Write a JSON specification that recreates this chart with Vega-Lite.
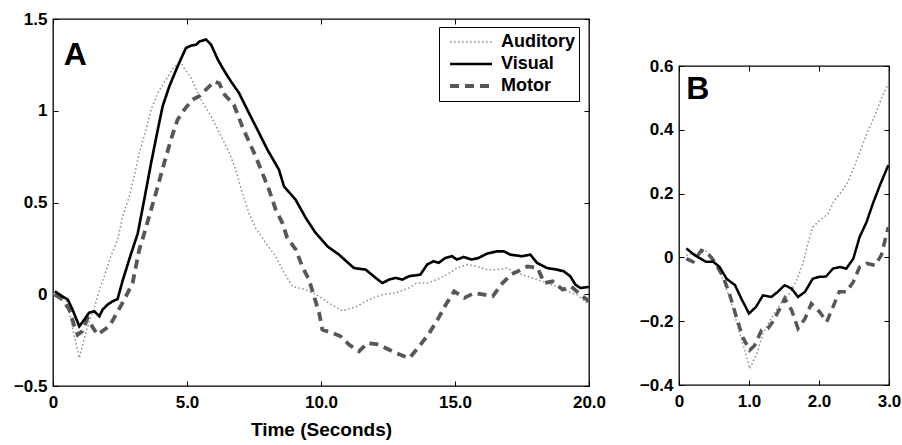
{
  "$schema": "https://vega.github.io/schema/vega-lite/v6.json",
  "padding": {"left": 12, "top": 9, "right": 0, "bottom": 0},
  "background": "white",
  "datasets": {
    "a": [
      {"s":"Auditory","t":0.0,"v":0.0},{"s":"Auditory","t":0.3,"v":0.0},{"s":"Auditory","t":0.55,"v":-0.05},{"s":"Auditory","t":0.75,"v":-0.2},{"s":"Auditory","t":0.98,"v":-0.347},{"s":"Auditory","t":1.15,"v":-0.25},{"s":"Auditory","t":1.35,"v":-0.15},{"s":"Auditory","t":1.55,"v":-0.07},{"s":"Auditory","t":1.73,"v":0.024},{"s":"Auditory","t":1.91,"v":0.098},{"s":"Auditory","t":2.16,"v":0.207},{"s":"Auditory","t":2.41,"v":0.298},{"s":"Auditory","t":2.6,"v":0.425},{"s":"Auditory","t":2.85,"v":0.534},{"s":"Auditory","t":3.03,"v":0.643},{"s":"Auditory","t":3.22,"v":0.77},{"s":"Auditory","t":3.47,"v":0.897},{"s":"Auditory","t":3.66,"v":1.006},{"s":"Auditory","t":3.91,"v":1.097},{"s":"Auditory","t":4.22,"v":1.17},{"s":"Auditory","t":4.53,"v":1.242},{"s":"Auditory","t":4.78,"v":1.26},{"s":"Auditory","t":4.9,"v":1.23},{"s":"Auditory","t":5.15,"v":1.179},{"s":"Auditory","t":5.52,"v":1.061},{"s":"Auditory","t":5.9,"v":0.97},{"s":"Auditory","t":6.27,"v":0.861},{"s":"Auditory","t":6.58,"v":0.77},{"s":"Auditory","t":6.82,"v":0.679},{"s":"Auditory","t":7.06,"v":0.552},{"s":"Auditory","t":7.31,"v":0.443},{"s":"Auditory","t":7.56,"v":0.361},{"s":"Auditory","t":7.94,"v":0.279},{"s":"Auditory","t":8.31,"v":0.207},{"s":"Auditory","t":8.56,"v":0.134},{"s":"Auditory","t":8.93,"v":0.043},{"s":"Auditory","t":9.43,"v":0.025},{"s":"Auditory","t":9.93,"v":-0.011},{"s":"Auditory","t":10.3,"v":-0.048},{"s":"Auditory","t":10.79,"v":-0.09},{"s":"Auditory","t":11.29,"v":-0.07},{"s":"Auditory","t":11.79,"v":-0.029},{"s":"Auditory","t":12.29,"v":-0.002},{"s":"Auditory","t":12.79,"v":0.007},{"s":"Auditory","t":13.28,"v":0.034},{"s":"Auditory","t":13.58,"v":0.061},{"s":"Auditory","t":13.96,"v":0.061},{"s":"Auditory","t":14.33,"v":0.08},{"s":"Auditory","t":14.7,"v":0.107},{"s":"Auditory","t":15.07,"v":0.143},{"s":"Auditory","t":15.45,"v":0.162},{"s":"Auditory","t":15.82,"v":0.152},{"s":"Auditory","t":16.19,"v":0.134},{"s":"Auditory","t":16.57,"v":0.134},{"s":"Auditory","t":16.94,"v":0.143},{"s":"Auditory","t":17.31,"v":0.116},{"s":"Auditory","t":17.69,"v":0.098},{"s":"Auditory","t":18.06,"v":0.08},{"s":"Auditory","t":18.43,"v":0.061},{"s":"Auditory","t":18.81,"v":0.043},{"s":"Auditory","t":19.18,"v":0.016},{"s":"Auditory","t":19.55,"v":-0.002},{"s":"Auditory","t":19.93,"v":-0.048},
      {"s":"Motor","t":0.07,"v":-0.002},{"s":"Motor","t":0.36,"v":-0.029},{"s":"Motor","t":0.61,"v":-0.084},{"s":"Motor","t":0.8,"v":-0.175},{"s":"Motor","t":0.92,"v":-0.22},{"s":"Motor","t":1.1,"v":-0.2},{"s":"Motor","t":1.29,"v":-0.13},{"s":"Motor","t":1.48,"v":-0.18},{"s":"Motor","t":1.66,"v":-0.22},{"s":"Motor","t":1.85,"v":-0.2},{"s":"Motor","t":2.04,"v":-0.18},{"s":"Motor","t":2.2,"v":-0.15},{"s":"Motor","t":2.35,"v":-0.11},{"s":"Motor","t":2.66,"v":-0.03},{"s":"Motor","t":2.97,"v":0.061},{"s":"Motor","t":3.22,"v":0.243},{"s":"Motor","t":3.41,"v":0.334},{"s":"Motor","t":3.66,"v":0.461},{"s":"Motor","t":3.84,"v":0.552},{"s":"Motor","t":4.15,"v":0.715},{"s":"Motor","t":4.4,"v":0.843},{"s":"Motor","t":4.65,"v":0.952},{"s":"Motor","t":4.9,"v":1.006},{"s":"Motor","t":5.21,"v":1.061},{"s":"Motor","t":5.46,"v":1.079},{"s":"Motor","t":5.77,"v":1.124},{"s":"Motor","t":6.02,"v":1.16},{"s":"Motor","t":6.2,"v":1.15},{"s":"Motor","t":6.4,"v":1.088},{"s":"Motor","t":6.75,"v":1.033},{"s":"Motor","t":7.06,"v":0.915},{"s":"Motor","t":7.31,"v":0.833},{"s":"Motor","t":7.56,"v":0.752},{"s":"Motor","t":7.81,"v":0.661},{"s":"Motor","t":8.06,"v":0.57},{"s":"Motor","t":8.31,"v":0.461},{"s":"Motor","t":8.56,"v":0.388},{"s":"Motor","t":8.74,"v":0.307},{"s":"Motor","t":9.06,"v":0.243},{"s":"Motor","t":9.3,"v":0.152},{"s":"Motor","t":9.55,"v":0.08},{"s":"Motor","t":9.74,"v":-0.011},{"s":"Motor","t":9.93,"v":-0.102},{"s":"Motor","t":10.05,"v":-0.193},{"s":"Motor","t":10.42,"v":-0.211},{"s":"Motor","t":10.73,"v":-0.229},{"s":"Motor","t":11.04,"v":-0.274},{"s":"Motor","t":11.42,"v":-0.311},{"s":"Motor","t":11.73,"v":-0.266},{"s":"Motor","t":12.16,"v":-0.274},{"s":"Motor","t":12.66,"v":-0.311},{"s":"Motor","t":13.1,"v":-0.338},{"s":"Motor","t":13.3,"v":-0.347},{"s":"Motor","t":13.67,"v":-0.284},{"s":"Motor","t":14.04,"v":-0.211},{"s":"Motor","t":14.35,"v":-0.138},{"s":"Motor","t":14.66,"v":-0.056},{"s":"Motor","t":14.97,"v":0.016},{"s":"Motor","t":15.35,"v":-0.02},{"s":"Motor","t":15.72,"v":0.007},{"s":"Motor","t":16.09,"v":-0.002},{"s":"Motor","t":16.41,"v":-0.011},{"s":"Motor","t":16.72,"v":0.053},{"s":"Motor","t":17.09,"v":0.107},{"s":"Motor","t":17.46,"v":0.134},{"s":"Motor","t":17.71,"v":0.152},{"s":"Motor","t":18.08,"v":0.143},{"s":"Motor","t":18.33,"v":0.061},{"s":"Motor","t":18.64,"v":0.07},{"s":"Motor","t":19.02,"v":0.025},{"s":"Motor","t":19.33,"v":0.043},{"s":"Motor","t":19.76,"v":-0.011},{"s":"Motor","t":20.0,"v":-0.038},
      {"s":"Visual","t":0.07,"v":0.016},{"s":"Visual","t":0.3,"v":-0.007},{"s":"Visual","t":0.55,"v":-0.029},{"s":"Visual","t":0.73,"v":-0.084},{"s":"Visual","t":0.98,"v":-0.175},{"s":"Visual","t":1.17,"v":-0.138},{"s":"Visual","t":1.35,"v":-0.1},{"s":"Visual","t":1.54,"v":-0.093},{"s":"Visual","t":1.73,"v":-0.12},{"s":"Visual","t":1.85,"v":-0.084},{"s":"Visual","t":2.04,"v":-0.056},{"s":"Visual","t":2.23,"v":-0.038},{"s":"Visual","t":2.41,"v":-0.026},{"s":"Visual","t":2.6,"v":0.075},{"s":"Visual","t":2.91,"v":0.22},{"s":"Visual","t":3.16,"v":0.33},{"s":"Visual","t":3.41,"v":0.52},{"s":"Visual","t":3.66,"v":0.715},{"s":"Visual","t":3.91,"v":0.897},{"s":"Visual","t":4.09,"v":1.024},{"s":"Visual","t":4.34,"v":1.133},{"s":"Visual","t":4.65,"v":1.242},{"s":"Visual","t":4.96,"v":1.342},{"s":"Visual","t":5.15,"v":1.355},{"s":"Visual","t":5.34,"v":1.36},{"s":"Visual","t":5.47,"v":1.378},{"s":"Visual","t":5.71,"v":1.388},{"s":"Visual","t":5.9,"v":1.36},{"s":"Visual","t":6.15,"v":1.279},{"s":"Visual","t":6.4,"v":1.215},{"s":"Visual","t":6.64,"v":1.16},{"s":"Visual","t":6.94,"v":1.097},{"s":"Visual","t":7.31,"v":0.988},{"s":"Visual","t":7.69,"v":0.879},{"s":"Visual","t":8.0,"v":0.788},{"s":"Visual","t":8.43,"v":0.679},{"s":"Visual","t":8.62,"v":0.588},{"s":"Visual","t":9.05,"v":0.516},{"s":"Visual","t":9.43,"v":0.416},{"s":"Visual","t":9.8,"v":0.334},{"s":"Visual","t":10.24,"v":0.261},{"s":"Visual","t":10.67,"v":0.216},{"s":"Visual","t":11.23,"v":0.143},{"s":"Visual","t":11.67,"v":0.134},{"s":"Visual","t":12.04,"v":0.089},{"s":"Visual","t":12.29,"v":0.061},{"s":"Visual","t":12.54,"v":0.08},{"s":"Visual","t":12.79,"v":0.089},{"s":"Visual","t":13.04,"v":0.08},{"s":"Visual","t":13.28,"v":0.098},{"s":"Visual","t":13.71,"v":0.107},{"s":"Visual","t":13.96,"v":0.162},{"s":"Visual","t":14.2,"v":0.18},{"s":"Visual","t":14.39,"v":0.171},{"s":"Visual","t":14.64,"v":0.198},{"s":"Visual","t":14.89,"v":0.207},{"s":"Visual","t":15.07,"v":0.189},{"s":"Visual","t":15.32,"v":0.203},{"s":"Visual","t":15.63,"v":0.189},{"s":"Visual","t":15.88,"v":0.198},{"s":"Visual","t":16.19,"v":0.221},{"s":"Visual","t":16.57,"v":0.234},{"s":"Visual","t":16.82,"v":0.234},{"s":"Visual","t":17.06,"v":0.216},{"s":"Visual","t":17.5,"v":0.207},{"s":"Visual","t":17.81,"v":0.216},{"s":"Visual","t":18.06,"v":0.171},{"s":"Visual","t":18.43,"v":0.143},{"s":"Visual","t":18.81,"v":0.134},{"s":"Visual","t":19.06,"v":0.125},{"s":"Visual","t":19.3,"v":0.098},{"s":"Visual","t":19.49,"v":0.053},{"s":"Visual","t":19.68,"v":0.034},{"s":"Visual","t":19.99,"v":0.04}
    ],
    "b": [
      {"s":"Auditory","t":0.105,"v":0.007},{"s":"Auditory","t":0.25,"v":0.013},{"s":"Auditory","t":0.37,"v":0.022},{"s":"Auditory","t":0.46,"v":0.007},{"s":"Auditory","t":0.56,"v":-0.03},{"s":"Auditory","t":0.65,"v":-0.082},{"s":"Auditory","t":0.75,"v":-0.145},{"s":"Auditory","t":0.84,"v":-0.218},{"s":"Auditory","t":0.94,"v":-0.291},{"s":"Auditory","t":1.01,"v":-0.349},{"s":"Auditory","t":1.11,"v":-0.302},{"s":"Auditory","t":1.2,"v":-0.239},{"s":"Auditory","t":1.3,"v":-0.197},{"s":"Auditory","t":1.39,"v":-0.166},{"s":"Auditory","t":1.49,"v":-0.134},{"s":"Auditory","t":1.58,"v":-0.113},{"s":"Auditory","t":1.68,"v":-0.072},{"s":"Auditory","t":1.77,"v":-0.019},{"s":"Auditory","t":1.84,"v":0.043},{"s":"Auditory","t":1.91,"v":0.095},{"s":"Auditory","t":2.01,"v":0.116},{"s":"Auditory","t":2.13,"v":0.137},{"s":"Auditory","t":2.22,"v":0.179},{"s":"Auditory","t":2.32,"v":0.205},{"s":"Auditory","t":2.41,"v":0.236},{"s":"Auditory","t":2.51,"v":0.289},{"s":"Auditory","t":2.61,"v":0.346},{"s":"Auditory","t":2.7,"v":0.398},{"s":"Auditory","t":2.8,"v":0.445},{"s":"Auditory","t":2.89,"v":0.498},{"s":"Auditory","t":2.99,"v":0.545},
      {"s":"Motor","t":0.105,"v":-0.004},{"s":"Motor","t":0.2,"v":-0.014},{"s":"Motor","t":0.32,"v":0.022},{"s":"Motor","t":0.41,"v":0.013},{"s":"Motor","t":0.51,"v":-0.014},{"s":"Motor","t":0.63,"v":-0.061},{"s":"Motor","t":0.72,"v":-0.113},{"s":"Motor","t":0.82,"v":-0.187},{"s":"Motor","t":0.91,"v":-0.25},{"s":"Motor","t":1.01,"v":-0.291},{"s":"Motor","t":1.08,"v":-0.276},{"s":"Motor","t":1.18,"v":-0.228},{"s":"Motor","t":1.27,"v":-0.223},{"s":"Motor","t":1.34,"v":-0.202},{"s":"Motor","t":1.44,"v":-0.161},{"s":"Motor","t":1.51,"v":-0.129},{"s":"Motor","t":1.61,"v":-0.166},{"s":"Motor","t":1.7,"v":-0.223},{"s":"Motor","t":1.8,"v":-0.192},{"s":"Motor","t":1.89,"v":-0.145},{"s":"Motor","t":2.01,"v":-0.171},{"s":"Motor","t":2.11,"v":-0.202},{"s":"Motor","t":2.2,"v":-0.155},{"s":"Motor","t":2.29,"v":-0.108},{"s":"Motor","t":2.39,"v":-0.108},{"s":"Motor","t":2.49,"v":-0.077},{"s":"Motor","t":2.58,"v":-0.03},{"s":"Motor","t":2.68,"v":-0.019},{"s":"Motor","t":2.8,"v":-0.025},{"s":"Motor","t":2.89,"v":0.007},{"s":"Motor","t":2.99,"v":0.095},
      {"s":"Visual","t":0.105,"v":0.028},{"s":"Visual","t":0.224,"v":0.007},{"s":"Visual","t":0.39,"v":-0.014},{"s":"Visual","t":0.49,"v":-0.014},{"s":"Visual","t":0.58,"v":-0.03},{"s":"Visual","t":0.68,"v":-0.067},{"s":"Visual","t":0.8,"v":-0.087},{"s":"Visual","t":0.89,"v":-0.129},{"s":"Visual","t":1.0,"v":-0.176},{"s":"Visual","t":1.1,"v":-0.155},{"s":"Visual","t":1.2,"v":-0.119},{"s":"Visual","t":1.32,"v":-0.124},{"s":"Visual","t":1.41,"v":-0.108},{"s":"Visual","t":1.51,"v":-0.087},{"s":"Visual","t":1.61,"v":-0.098},{"s":"Visual","t":1.7,"v":-0.124},{"s":"Visual","t":1.8,"v":-0.108},{"s":"Visual","t":1.91,"v":-0.067},{"s":"Visual","t":2.0,"v":-0.061},{"s":"Visual","t":2.1,"v":-0.06},{"s":"Visual","t":2.2,"v":-0.035},{"s":"Visual","t":2.3,"v":-0.03},{"s":"Visual","t":2.39,"v":-0.035},{"s":"Visual","t":2.49,"v":-0.004},{"s":"Visual","t":2.58,"v":0.064},{"s":"Visual","t":2.68,"v":0.111},{"s":"Visual","t":2.77,"v":0.169},{"s":"Visual","t":2.87,"v":0.226},{"s":"Visual","t":2.99,"v":0.289}
    ]
  },
  "config": {
    "font": "Liberation Sans",
    "view": {"stroke": "#000000", "strokeWidth": 1.3},
    "axis": {
      "labelFont": "Liberation Sans", "labelFontSize": 17, "labelFontWeight": "bold", "labelColor": "#000000",
      "domain": false, "grid": false, "ticks": true, "tickColor": "#000000", "tickWidth": 1, "tickSize": -5,
      "labelPadding": 11, "labelFlush": false, "labelOverlap": false,
      "titleFont": "Liberation Sans", "titleFontSize": 19, "titleFontWeight": "bold", "titleColor": "#000000"
    },
    "axisQuantitative": {"labelFontWeight": "bold"},
    "axisX": {"labelFontWeight": "bold"},
    "axisY": {"labelFontWeight": "bold"},
    "legend": {
      "orient": "none", "legendX": 386, "legendY": 8, "title": null,
      "symbolType": "stroke", "symbolSize": 1764, "clipHeight": 22, "rowPadding": 0,
      "padding": 4, "symbolOffset": 5, "labelOffset": 7,
      "labelFont": "Liberation Sans", "labelFontSize": 18, "labelFontWeight": "bold", "labelColor": "#000000",
      "strokeColor": "#000000", "fillColor": "#ffffff"
    }
  },
  "spacing": 31,
  "resolve": {"scale": {"color": "independent", "strokeDash": "independent", "strokeWidth": "independent"}, "legend": {"color": "independent", "strokeDash": "independent", "strokeWidth": "independent"}},
  "hconcat": [
    {
      "width": 536, "height": 367,
      "layer": [
        {
          "data": {"name": "a"},
          "mark": {"type": "line"},
          "encoding": {
            "x": {"field": "t", "type": "quantitative", "scale": {"domain": [0, 20], "nice": false, "zero": false},
                  "axis": {"values": [0, 5, 10, 15, 20], "labelExpr": "datum.value == 0 ? '0' : format(datum.value, '.1f')", "labelFontWeight": "bold", "labelPadding": 13, "title": "Time (Seconds)", "titlePadding": 10,
                           "encode": {"labels": {"update": {"fontWeight": {"value": "bold"}}}}}},
            "y": {"field": "v", "type": "quantitative", "scale": {"domain": [-0.5, 1.5], "nice": false, "zero": false},
                  "axis": {"values": [-0.5, 0, 0.5, 1, 1.5], "format": ".1~f", "labelFontWeight": "bold", "labelPadding": 11, "title": null,
                           "encode": {"labels": {"update": {"fontWeight": {"value": "bold"}}}}}},
            "color": {"field": "s", "type": "nominal", "scale": {"domain": ["Auditory", "Visual", "Motor"], "range": ["#8c8c8c", "#000000", "#575757"]}},
            "strokeDash": {"field": "s", "type": "nominal", "scale": {"domain": ["Auditory", "Visual", "Motor"], "range": [[1.5, 2.5], [1, 0], [9, 6]]}},
            "strokeWidth": {"field": "s", "type": "nominal", "scale": {"domain": ["Auditory", "Visual", "Motor"], "range": [1.5, 3.8, 4]}}
          }
        },
        {
          "data": {"values": [{}]},
          "mark": {"type": "text", "fontSize": 32, "fontWeight": "bold", "align": "left", "baseline": "alphabetic", "font": "Liberation Sans", "color": "#000000"},
          "encoding": {
            "x": {"datum": 0.4, "type": "quantitative", "axis": {"orient": "top", "labels": false, "title": null, "values": [0, 5, 10, 15, 20]}},
            "y": {"datum": 1.25, "type": "quantitative", "axis": {"orient": "right", "labels": false, "title": null, "values": [-0.5, 0, 0.5, 1, 1.5]}},
            "text": {"value": "A"}
          }
        }
      ],
      "resolve": {"axis": {"x": "independent", "y": "independent"}}
    },
    {
      "spacing": 0,
      "vconcat": [
        {
          "width": 210, "height": 37,
          "view": {"stroke": null},
          "data": {"values": [{}]},
          "mark": {"type": "text"},
          "encoding": {"text": {"value": ""}}
        },
        {
          "width": 210, "height": 319,
          "layer": [
            {
              "data": {"name": "b"},
              "mark": {"type": "line"},
              "encoding": {
                "x": {"field": "t", "type": "quantitative", "scale": {"domain": [0, 3], "nice": false, "zero": false},
                      "axis": {"values": [0, 1, 2, 3], "labelExpr": "datum.value == 0 ? '0' : format(datum.value, '.1f')", "labelFontWeight": "bold", "labelPadding": 13, "title": null,
                               "encode": {"labels": {"update": {"fontWeight": {"value": "bold"}}}}}},
                "y": {"field": "v", "type": "quantitative", "scale": {"domain": [-0.4, 0.6], "nice": false, "zero": false},
                      "axis": {"values": [-0.4, -0.2, 0, 0.2, 0.4, 0.6], "format": ".1~f", "labelFontWeight": "bold", "labelPadding": 11, "title": null,
                               "encode": {"labels": {"update": {"fontWeight": {"value": "bold"}}}}}},
                "color": {"field": "s", "type": "nominal", "scale": {"domain": ["Auditory", "Visual", "Motor"], "range": ["#8c8c8c", "#000000", "#575757"]}, "legend": null},
                "strokeDash": {"field": "s", "type": "nominal", "scale": {"domain": ["Auditory", "Visual", "Motor"], "range": [[1.5, 2.5], [1, 0], [9, 6]]}, "legend": null},
                "strokeWidth": {"field": "s", "type": "nominal", "scale": {"domain": ["Auditory", "Visual", "Motor"], "range": [1.5, 3.5, 4]}, "legend": null}
              }
            },
            {
              "data": {"values": [{}]},
              "mark": {"type": "text", "fontSize": 32, "fontWeight": "bold", "align": "left", "baseline": "alphabetic", "font": "Liberation Sans", "color": "#000000"},
              "encoding": {
                "x": {"datum": 0.105, "type": "quantitative", "axis": {"orient": "top", "labels": false, "title": null, "values": [0, 1, 2, 3]}},
                "y": {"datum": 0.498, "type": "quantitative", "axis": {"orient": "right", "labels": false, "title": null, "values": [-0.4, -0.2, 0, 0.2, 0.4, 0.6]}},
                "text": {"value": "B"}
              }
            }
          ],
          "resolve": {"axis": {"x": "independent", "y": "independent"}}
        }
      ]
    }
  ]
}
